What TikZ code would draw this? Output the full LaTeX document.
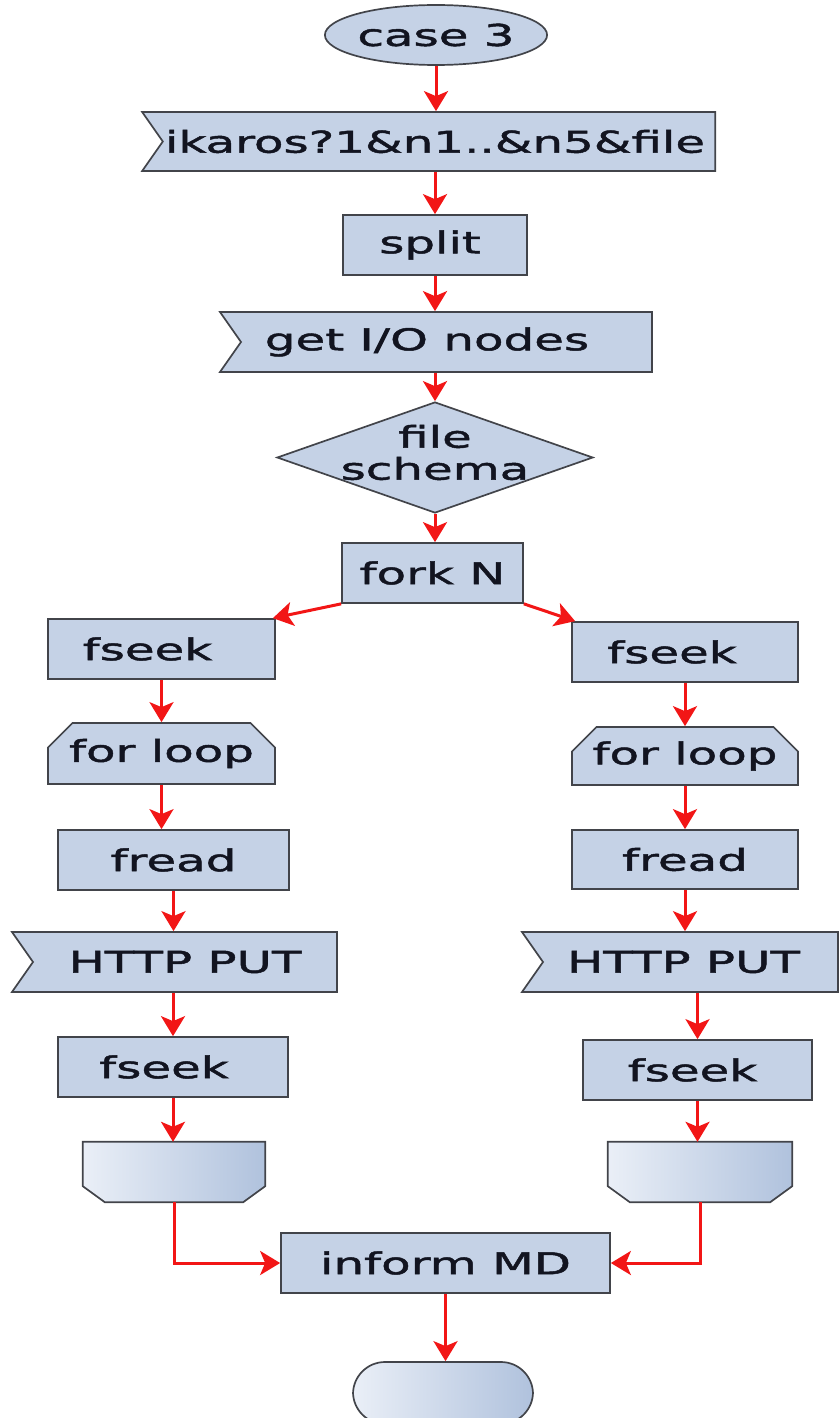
\documentclass[tikz,border=0pt]{standalone}
\usepackage{fontspec}
\setmainfont{DejaVu Sans}[FakeStretch=1.61, FakeBold=1.6]
\usetikzlibrary{shapes.geometric,shapes.misc,shapes.symbols,arrows.meta}
\definecolor{boxfill}{RGB}{197,210,230}
\definecolor{boxline}{RGB}{66,68,74}
\definecolor{gradL}{RGB}{234,239,247}
\definecolor{gradR}{RGB}{176,194,221}
\definecolor{arrowred}{RGB}{242,22,22}
\definecolor{txt}{RGB}{18,20,32}
\begin{document}
\begin{tikzpicture}[x=1pt,y=-1pt,
  base/.style={draw=boxline, line width=1.7pt, fill=boxfill, inner sep=0pt, text=txt,
    font=\fontsize{30}{35}\selectfont, align=center},
  proc/.style={base, rectangle},
  iobox/.style={base, signal, signal to=nowhere, signal from=west, signal pointer angle=110},
  loopstart/.style={base, chamfered rectangle, chamfered rectangle corners={north west,north east},
    chamfered rectangle xsep=15pt, chamfered rectangle ysep=10pt},
  holder/.style={rectangle, draw=none, fill=none, inner sep=0pt},
  loopendshape/.style={draw=boxline, line width=1.7pt, left color=gradL, right color=gradR},
  termbox/.style={base, rectangle, rounded corners=32pt, left color=gradL, right color=gradR},
  startst/.style={base, ellipse},
  decision/.style={base, diamond},
  dectext/.style={text=txt, font=\fontsize{30}{35}\selectfont, align=center, inner sep=0pt},
  arr/.style={draw=arrowred, line width=3pt, -{Stealth[length=20pt, width=24pt, inset=5pt]}}
]
\useasboundingbox (0,0) rectangle (840,1418);
\clip (0,0) rectangle (840,1418);

% main column
\node[startst, minimum width=206pt, minimum height=60pt] (c3) at (436,35) {case 3};
\node[iobox, minimum width=573pt, minimum height=59pt] (ik) at (439,141.5) {ikaros?1\&n1..\&n5\&file\hspace{8pt}};
\node[proc, minimum width=184pt, minimum height=60pt] (split) at (435,245) {split\hspace{10pt}};
\node[iobox, minimum width=432pt, minimum height=60pt] (gio) at (446.5,342) {get I/O nodes\hspace{39pt}};
\node[decision, minimum width=316pt, minimum height=111pt,
  label={[dectext, yshift=5pt]center:file\\[-3pt]schema}] (dec) at (435,457.5) {};
\node[proc, minimum width=181pt, minimum height=60pt] (fork) at (432.5,573) {fork N};

% left column
\node[proc, minimum width=227pt, minimum height=60pt] (fsL) at (161.5,649) {fseek\hspace{28pt}};
\node[loopstart, minimum width=227pt, minimum height=61pt] (flL) at (161.5,753.5) {for loop};
\node[proc, minimum width=231pt, minimum height=60pt] (frL) at (173.5,860) {fread};
\node[iobox, minimum width=325pt, minimum height=60pt] (htL) at (185,962) {HTTP PUT};
\node[proc, minimum width=230pt, minimum height=60pt] (fs2L) at (173,1067) {fseek\hspace{18pt}};
\node[holder, minimum width=182pt, minimum height=60pt] (enL) at (174,1172) {};

% right column
\node[proc, minimum width=226pt, minimum height=60pt] (fsR) at (685,652) {fseek\hspace{26pt}};
\node[loopstart, minimum width=226pt, minimum height=58pt] (flR) at (685,756) {for loop};
\node[proc, minimum width=226pt, minimum height=59pt] (frR) at (685,859.5) {fread};
\node[iobox, minimum width=316pt, minimum height=60pt] (htR) at (690.5,962) {HTTP PUT\hspace{14pt}};
\node[proc, minimum width=229pt, minimum height=60pt] (fs2R) at (697.5,1070) {fseek\hspace{10pt}};
\node[holder, minimum width=184pt, minimum height=60pt] (enR) at (700,1172) {};

% loop-end outlines
\path[loopendshape] (enL.north west) -- (enL.north east) -- ([yshift=16pt]enL.south east)
  -- ([xshift=-22pt]enL.south east) -- ([xshift=22pt]enL.south west)
  -- ([yshift=16pt]enL.south west) -- cycle;
\path[loopendshape] (enR.north west) -- (enR.north east) -- ([yshift=16pt]enR.south east)
  -- ([xshift=-22pt]enR.south east) -- ([xshift=22pt]enR.south west)
  -- ([yshift=16pt]enR.south west) -- cycle;

% bottom
\node[proc, minimum width=329pt, minimum height=60pt] (inf) at (445.5,1263) {inform MD};
\node[termbox, minimum width=180pt, minimum height=62pt] (term) at (443,1393) {};

% connectors
\draw[arr] (c3.south) -- (c3.south |- ik.north);
\draw[arr] (split.north |- ik.south) -- (split.north);
\draw[arr] (split.south) -- (split.south |- gio.north);
\draw[arr] (dec.north |- gio.south) -- (dec.north);
\draw[arr] (dec.south) -- (dec.south |- fork.north);
\draw[arr] (fork.south west) -- ([xshift=-3pt]fsL.north east);
\draw[arr] (fork.south east) -- ([xshift=4pt]fsR.north west);

\draw[arr] (fsL.south) -- (fsL.south |- flL.north);
\draw[arr] (flL.south) -- (flL.south |- frL.north);
\draw[arr] (frL.south) -- (frL.south |- htL.north);
\draw[arr] (fs2L.north |- htL.south) -- (fs2L.north);
\draw[arr] (fs2L.south) -- (fs2L.south |- enL.north);

\draw[arr] (fsR.south) -- (fsR.south |- flR.north);
\draw[arr] (flR.south) -- (flR.south |- frR.north);
\draw[arr] (frR.south) -- (frR.south |- htR.north);
\draw[arr] (fs2R.north |- htR.south) -- (fs2R.north);
\draw[arr] (fs2R.south) -- (fs2R.south |- enR.north);

\draw[arr] (enL.south) |- (inf.west);
\draw[arr] (enR.south) |- (inf.east);
\draw[arr] (inf.south) -- (inf.south |- term.north);
\end{tikzpicture}
\end{document}
